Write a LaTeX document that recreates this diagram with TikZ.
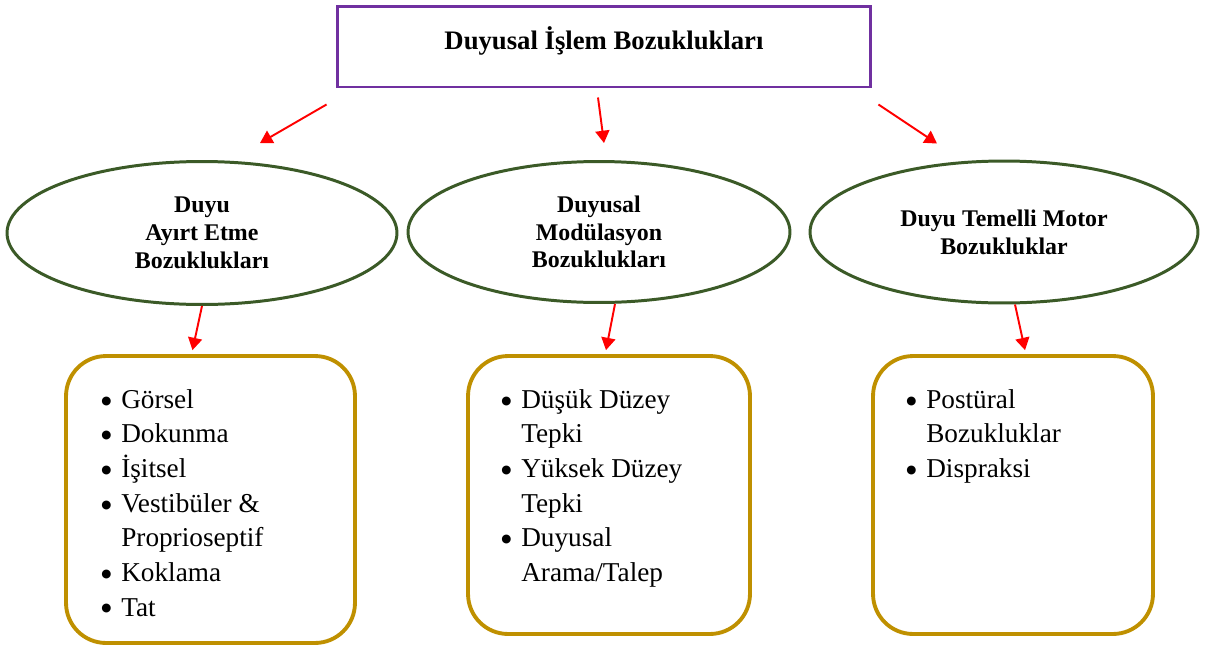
\documentclass[tikz,border=0pt]{standalone}
\usepackage{fontspec}
\setmainfont{Liberation Serif}
\newfontfamily\dotfont{DejaVu Sans}
\usetikzlibrary{positioning,calc,shapes.geometric,arrows.meta}
\definecolor{titlepurple}{HTML}{7030A0}
\definecolor{ovalgreen}{HTML}{3B5A27}
\definecolor{boxgold}{HTML}{BF9000}
\newcommand{\bitem}[1]{\makebox[11.3pt][l]{\raisebox{2.3pt}{\dotfont\fontsize{6.6}{7}\selectfont ●}}#1}
\newcommand{\bcont}[1]{\hspace*{11.3pt}#1}

\begin{document}
\begin{tikzpicture}[x=0.02cm, y=-0.02cm,
				titlebox/.style={rectangle, draw=titlepurple, line width=1.7pt, minimum width=10.68cm, minimum height=1.62cm, inner sep=0pt, text height=12pt, text depth=9pt, font=\fontsize{15.2}{17}\selectfont\bfseries},
				group/.style={ellipse, draw=ovalgreen, line width=1.7pt, inner sep=0pt, align=center, font=\fontsize{13.6}{15.8}\selectfont\bfseries},
				listbox/.style={rectangle, rounded corners=0.8cm, draw=boxgold, line width=2.2pt},
				items/.style={anchor=north west, inner sep=0pt, align=left, font=\fontsize{15.5}{19.7}\selectfont},
				arr/.style={draw=red, line width=1.1pt, -{Triangle[length=7pt, width=8pt]}}
			]
			\useasboundingbox (0,0) rectangle (1213,646);
			\node[titlebox] (title) at (604,46.5) {Duyusal İşlem Bozuklukları};
			\node[group, minimum width=7.8cm, minimum height=2.86cm] (discr) at (202,233) {Duyu\\Ayırt Etme\\Bozuklukları};
			\node[group, minimum width=7.64cm, minimum height=2.82cm] (modul) at (599,232) {Duyusal\\Modülasyon\\Bozuklukları};
			\node[group, minimum width=7.76cm, minimum height=2.84cm] (motor) at (1004,232) {Duyu Temelli Motor\\Bozukluklar};
			\node[listbox, minimum width=5.78cm, minimum height=5.74cm] (discrbox) at (210.5,499.5) {};
			\node[listbox, minimum width=5.64cm, minimum height=5.56cm] (modulbox) at (609,495) {};
			\node[listbox, minimum width=5.6cm, minimum height=5.56cm] (motorbox) at (1013,495) {};
			\node[items] (discritems) at ($(discrbox.north west)+(37,35)$) {\bitem{Görsel}\\\bitem{Dokunma}\\\bitem{İşitsel}\\\bitem{Vestibüler \&}\\\bcont{Proprioseptif}\\\bitem{Koklama}\\\bitem{Tat}};
			\node[items] (modulitems) at ($(modulbox.north west)+(35,35)$) {\bitem{Düşük Düzey}\\\bcont{Tepki}\\\bitem{Yüksek Düzey}\\\bcont{Tepki}\\\bitem{Duyusal}\\\bcont{Arama/Talep}};
			\node[items] (motoritems) at ($(motorbox.north west)+(35,35)$) {\bitem{Postüral}\\\bcont{Bozukluklar}\\\bitem{Dispraksi}};
			% arrows
			\draw[arr] ($(title.south west)+(-9,16)$) -- ($(discr.north)+(58,-17)$);
			\draw[arr] ($(title.south)+(-6,9)$) -- ($(modul.north)+(5,-17)$);
			\draw[arr] ($(title.south east)+(6,16)$) -- ($(motor.north)+(-67,-16)$);
			\draw[arr] (discr.south) -- ($(discrbox.north)+(-18,-4)$);
			\draw[arr] ($(modul.south)+(16,0)$) -- ($(modulbox.north)+(-3,-4)$);
			\draw[arr] ($(motor.south)+(11,0)$) -- ($(motorbox.north)+(12,-4)$);
\end{tikzpicture}
\end{document}
